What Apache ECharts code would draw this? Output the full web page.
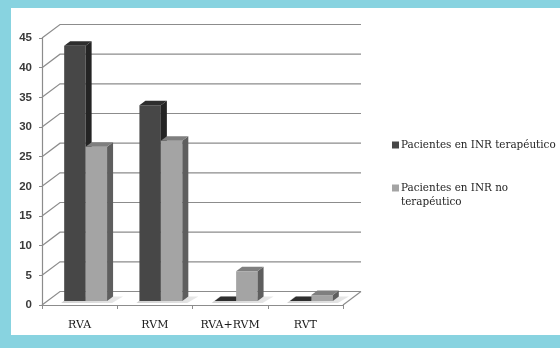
<!DOCTYPE html>
<html>
<head>
<meta charset="utf-8">
<script src="https://cdn.jsdelivr.net/npm/echarts@6/dist/echarts.min.js"></script>
<style>
  html, body { margin: 0; padding: 0; background: #88d3e0; }
  #chart { width: 560px; height: 348px; }
</style>
</head>
<body>
<div id="chart"></div>
<script>
// Categories and values
const categories = ['RVA', 'RVM', 'RVA+RVM', 'RVT'];
const seriesNames = ['Pacientes en INR terapéutico', 'Pacientes en INR no terapéutico'];
const inrTerapeutico = [43, 33, 0, 0];
const inrNoTerapeutico = [26, 27, 5, 1];
const yTicks = [0, 5, 10, 15, 20, 25, 30, 35, 40, 45];

// 3D look: depth of the wall box and of each bar box
const WALL_DX = 18, WALL_DY = -13.5;
const BAR_SHIFT_X = 6, BAR_SHIFT_Y = -4;
const BAR_DX = 6, BAR_DY = -4.5;
const BAR_FRACTION = 0.285;

const palette = [
  { front: '#474747', side: '#242424', top: '#2e2e2e' },
  { front: '#a4a4a4', side: '#5e5e5e', top: '#7f7f7f' }
];

const chart = echarts.init(document.getElementById('chart'), null, { renderer: 'canvas' });

function wallRenderer(params, api) {
  const cs = params.coordSys;
  const v = api.value(1);
  const y = api.coord([0, v])[1];
  const x0 = cs.x, x1 = cs.x + cs.width;
  const style = { stroke: '#8c8c8c', lineWidth: 1.2, fill: null };
  const children = [{
    type: 'polyline',
    shape: { points: [[x0, y], [x0 + WALL_DX, y + WALL_DY], [x1 + WALL_DX, y + WALL_DY]] },
    style: style
  }];
  if (v === 0) {
    children.push({
      type: 'line',
      shape: { x1: x1, y1: y, x2: x1 + WALL_DX, y2: y + WALL_DY },
      style: style
    });
  }
  return { type: 'group', children: children };
}

// soft floor shadow under each pair of bars
function shadowRenderer(params, api) {
  const cat = api.value(0);
  const base = api.coord([cat, 0]);
  const w = api.size([1, 0])[0] * BAR_FRACTION;
  const xl = base[0] - w + BAR_SHIFT_X - 3;
  const xr = base[0] + w + BAR_SHIFT_X + 5;
  const yb = base[1] + BAR_SHIFT_Y + 2;
  return {
    type: 'polygon',
    shape: { points: [[xl, yb], [xr, yb], [xr + BAR_DX + 5, yb + BAR_DY - 2], [xl + BAR_DX + 2, yb + BAR_DY - 2]] },
    style: {
      fill: new echarts.graphic.LinearGradient(0, 0, 1, 0, [
        { offset: 0, color: '#d0d0d0' },
        { offset: 1, color: '#e8e8e8' }
      ])
    }
  };
}

function barRenderer(slot) {
  const c = palette[slot];
  return function (params, api) {
    const cat = api.value(0), v = api.value(1);
    const base = api.coord([cat, 0]);
    const top = api.coord([cat, v]);
    const w = api.size([1, 0])[0] * BAR_FRACTION;
    const xl = base[0] + (slot === 0 ? -w : 0) + BAR_SHIFT_X;
    const xr = xl + w;
    const yb = base[1] + BAR_SHIFT_Y;
    const yt = top[1] + BAR_SHIFT_Y;
    return {
      type: 'group',
      children: [
        { type: 'rect', shape: { x: xl, y: yt, width: w, height: yb - yt }, style: { fill: c.front } },
        { type: 'polygon', shape: { points: [[xr, yt], [xr + BAR_DX, yt + BAR_DY], [xr + BAR_DX, yb + BAR_DY], [xr, yb]] }, style: { fill: c.side } },
        { type: 'polygon', shape: { points: [[xl, yt], [xr, yt], [xr + BAR_DX, yt + BAR_DY], [xl + BAR_DX, yt + BAR_DY]] }, style: { fill: c.top } }
      ]
    };
  };
}

chart.setOption({
  animation: false,
  backgroundColor: '#88d3e0',
  graphic: [{
    type: 'rect', z: -10, silent: true,
    shape: { x: 11, y: 8, width: 549, height: 327 },
    style: { fill: '#ffffff' }
  }],
  grid: { left: 42, top: 38, width: 301, height: 267 },
  legend: {
    orient: 'vertical',
    left: 387,
    top: 133,
    itemWidth: 7,
    itemHeight: 7,
    itemGap: 15,
    icon: 'rect',
    textStyle: { fontFamily: 'DejaVu Serif', fontSize: 10.4, color: '#1e1e1e', lineHeight: 14, padding: [0, 0, 0, -3] },
    formatter: function (name) {
      // second entry wraps its last word onto a new line; the blank
      // leading line keeps its marker level with the first text line
      return name === seriesNames[1] ? '\n' + name.replace(/ (\S+)$/, '\n$1') : name;
    },
    data: [
      { name: seriesNames[0] },
      { name: seriesNames[1] }
    ]
  },
  xAxis: {
    type: 'category',
    data: categories,
    boundaryGap: true,
    axisLine: { lineStyle: { color: '#8c8c8c', width: 1.2 } },
    axisTick: { show: true, length: 4, lineStyle: { color: '#8c8c8c' } },
    axisLabel: { interval: 0, fontFamily: 'DejaVu Serif', fontSize: 11, color: '#1a1a1a', margin: 15 },
    splitLine: { show: false }
  },
  yAxis: {
    type: 'value',
    min: 0, max: 45, interval: 5,
    axisLine: { show: true, lineStyle: { color: '#8c8c8c', width: 1.2 } },
    axisTick: { show: true, length: 3, lineStyle: { color: '#8c8c8c' } },
    axisLabel: {
      fontFamily: 'Liberation Sans', fontWeight: 'bold', fontSize: 11.5, color: '#3a3a3a', margin: 10,
      formatter: function (v) { return yTicks.indexOf(v) >= 0 ? String(v) : ''; }
    },
    splitLine: { show: false }
  },
  series: [
    {
      type: 'custom', name: 'wall', silent: true, z: 1,
      renderItem: wallRenderer,
      data: yTicks.map(function (t) { return [0, t]; })
    },
    {
      type: 'custom', name: 'shadow', silent: true, z: 1,
      renderItem: shadowRenderer,
      data: categories.map(function (c, i) { return [i, 0]; })
    },
    {
      type: 'custom', name: seriesNames[0], z: 2,
      itemStyle: { color: palette[0].front },
      renderItem: barRenderer(0),
      data: inrTerapeutico.map(function (v, i) { return [i, v]; })
    },
    {
      type: 'custom', name: seriesNames[1], z: 2,
      itemStyle: { color: palette[1].front },
      renderItem: barRenderer(1),
      data: inrNoTerapeutico.map(function (v, i) { return [i, v]; })
    }
  ]
});
</script>
</body>
</html>
